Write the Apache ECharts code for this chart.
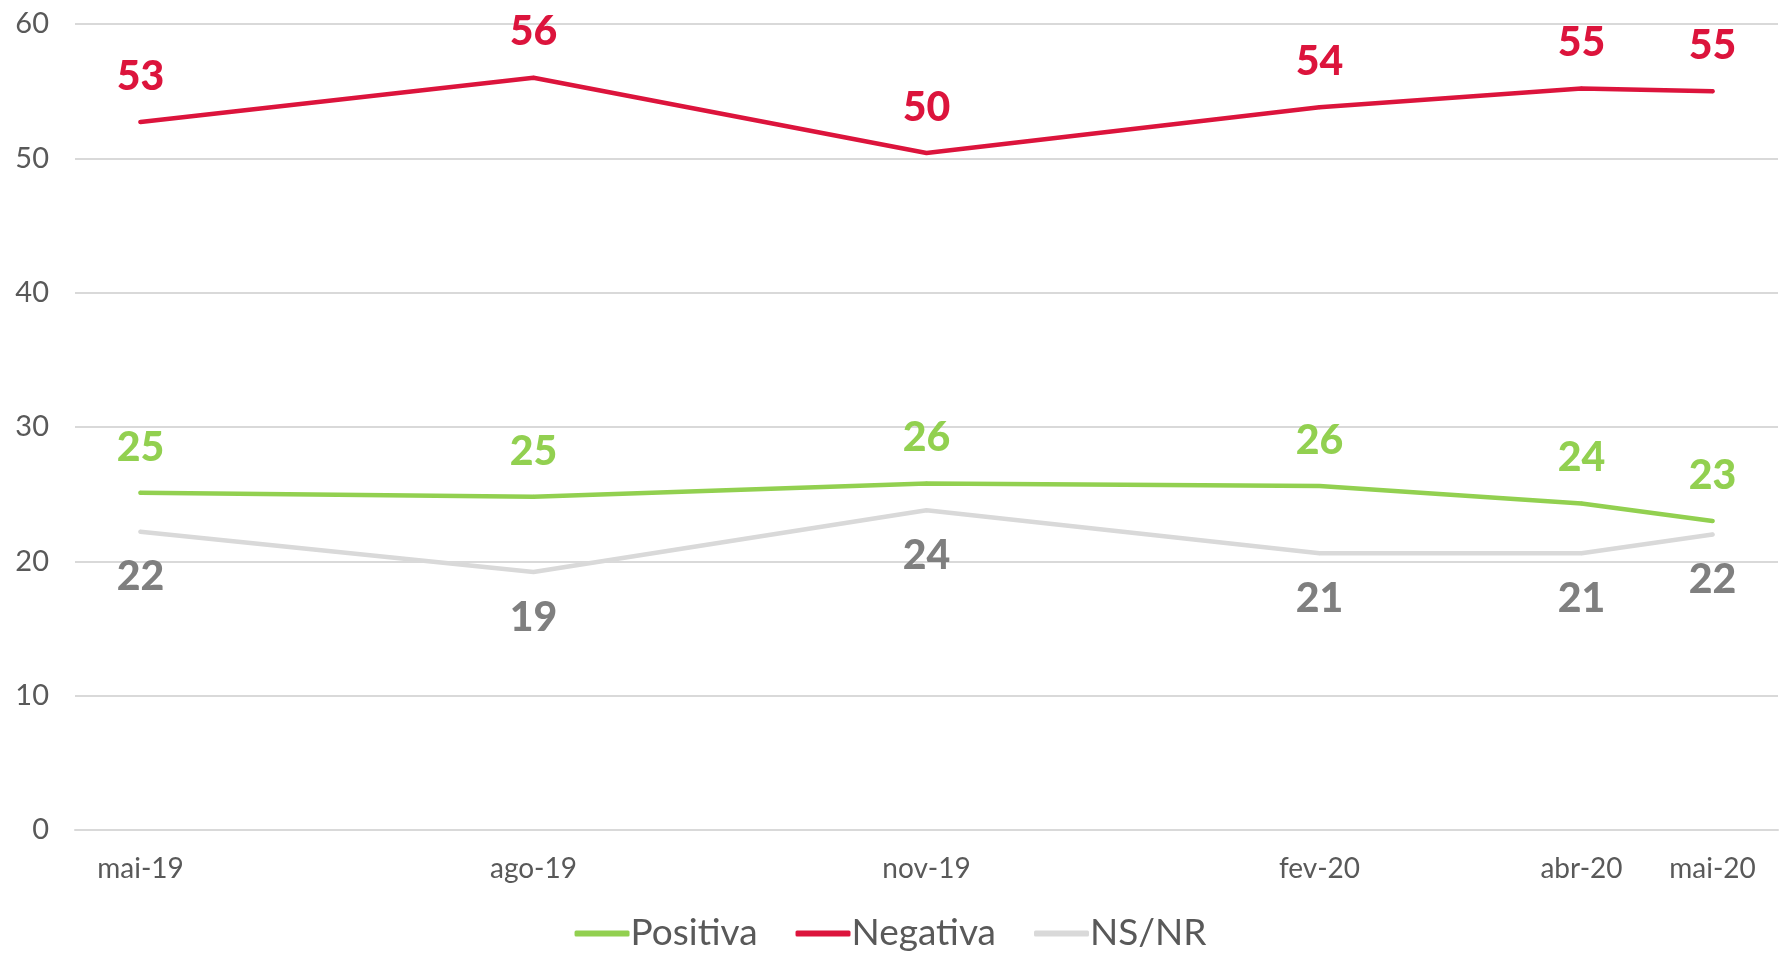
<!DOCTYPE html>
<html>
<head>
<meta charset="utf-8">
<title>Avaliação</title>
<script src="https://cdn.jsdelivr.net/npm/echarts@6/dist/echarts.min.js"></script>
<style>
  html, body { margin: 0; padding: 0; background: #fff; }
  #chart { width: 1781px; height: 959px; }
</style>
</head>
<body>
<div id="chart"></div>
<script>
// all months on the axis (date axis in the source, monthly steps)
const months = ["mai-19", "jun-19", "jul-19", "ago-19", "set-19", "out-19", "nov-19",
  "dez-19", "jan-20", "fev-20", "mar-20", "abr-20", "mai-20"];
// survey months that carry data / labels
const surveys = ["mai-19", "ago-19", "nov-19", "fev-20", "abr-20", "mai-20"];

const positiva = [25.1, 24.8, 25.8, 25.6, 24.3, 23.0];
const negativa = [52.7, 56.0, 50.4, 53.8, 55.2, 55.0];
const nsnr = [22.2, 19.2, 23.8, 20.6, 20.6, 22.0];

const yTicks = { min: 0, max: 60, step: 10 };

const FONT = "Lato, 'Noto Sans', sans-serif";

function pairs(values) {
  return surveys.map((m, i) => [m, values[i]]);
}

function lineSeries(name, values, color, labelColor, pos) {
  return {
    name: name,
    type: "line",
    data: pairs(values),
    symbol: "circle",
    symbolSize: 4,
    itemStyle: { color: color },
    lineStyle: { color: color, width: 4.5, cap: "round", join: "round" },
    label: {
      show: true,
      position: pos,
      distance: 23,
      color: labelColor,
      fontFamily: FONT,
      fontWeight: 900,
      fontSize: 41,
      formatter: (p) => Math.round(p.value[1]),
    },
    emphasis: { disabled: true },
    z: name === "NS/NR" ? 1 : 2,
  };
}

const chart = echarts.init(document.getElementById("chart"));
chart.setOption({
  animation: false,
  grid: { left: 75, right: 3, top: 24, bottom: 129 },
  legend: {
    data: ["Positiva", "Negativa", "NS/NR"],
    left: "center",
    top: 910,
    icon: "roundRect",
    itemWidth: 55,
    itemHeight: 6,
    itemGap: 38,
    textStyle: { fontFamily: FONT, fontSize: 37, color: "#595959", padding: [0, 0, 0, -4] },
  },
  xAxis: {
    type: "category",
    data: months,
    boundaryGap: true,
    axisLine: { show: true, lineStyle: { color: "#D9D9D9", width: 2 } },
    axisTick: { show: false },
    axisLabel: {
      interval: (idx, val) => surveys.includes(val),
      margin: 25,
      color: "#595959",
      fontFamily: FONT,
      fontSize: 28,
    },
  },
  yAxis: {
    type: "value",
    min: yTicks.min,
    max: yTicks.max,
    interval: yTicks.step,
    axisLine: { show: false },
    axisTick: { show: false },
    splitLine: { lineStyle: { color: "#D9D9D9", width: 2 } },
    axisLabel: {
      margin: 26,
      color: "#595959",
      fontFamily: FONT,
      fontSize: 29,
    },
  },
  series: [
    lineSeries("Positiva", positiva, "#92D050", "#92D050", "top"),
    lineSeries("Negativa", negativa, "#DC143C", "#DC143C", "top"),
    lineSeries("NS/NR", nsnr, "#D9D9D9", "#7F7F7F", "bottom"),
  ],
});
</script>
</body>
</html>
